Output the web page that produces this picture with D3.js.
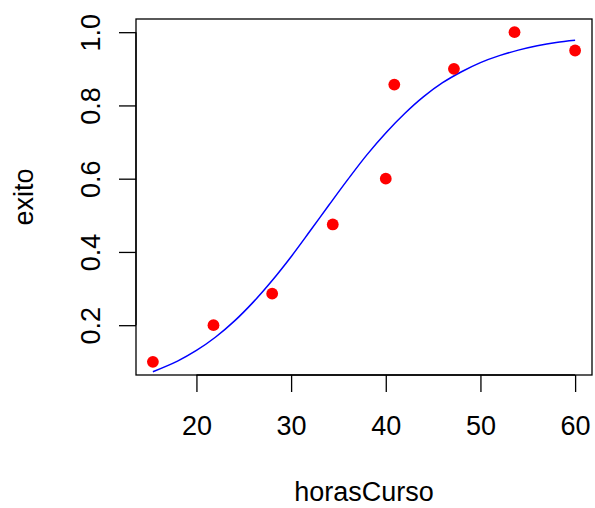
<!DOCTYPE html>
<html>
<head>
<meta charset="utf-8">
<script src="https://cdn.jsdelivr.net/npm/d3@7"></script>
<style>
  html, body { margin: 0; padding: 0; background: #ffffff; }
  svg { display: block; font-family: "Liberation Sans", Arial, Helvetica, sans-serif; }
</style>
</head>
<body>
<svg id="chart" width="595" height="508"></svg>
<script>
// Observed success proportion by course hours
const horasCurso = [15.4, 21.8, 28.0, 34.4, 40.0, 40.9, 47.2, 53.6, 60.0];
const exito = [0.100, 0.200, 0.286, 0.475, 0.600, 0.857, 0.900, 1.000, 0.950];

// Fitted logistic curve, sampled along the hours range
const curveHoras = [15.4, 18, 20, 22, 24, 26, 28, 30, 32, 34, 36, 38, 40, 42, 44, 46, 48, 50, 52, 54, 56, 58, 60];
const curveExito = [0.073, 0.102, 0.131, 0.167, 0.211, 0.263, 0.322, 0.387, 0.457, 0.528, 0.598, 0.665, 0.725,
                    0.778, 0.824, 0.862, 0.892, 0.917, 0.936, 0.951, 0.963, 0.972, 0.978];

const xTicks = [20, 30, 40, 50, 60];
const yTicks = [0.2, 0.4, 0.6, 0.8, 1.0];

const svg = d3.select("#chart");
const plot = { left: 136, right: 592, top: 19, bottom: 375 };

// R-style 4% padding around the data range
function padded(vals) {
  const [lo, hi] = d3.extent(vals);
  const p = (hi - lo) * 0.04;
  return [lo - p, hi + p];
}

const x = d3.scaleLinear().domain(padded(horasCurso)).range([plot.left, plot.right]);
const y = d3.scaleLinear().domain(padded(exito)).range([plot.bottom, plot.top]);

const fontSize = 27;
const tickLen = 17;

// x axis
const xAxis = d3.axisBottom(x).tickValues(xTicks).tickSize(tickLen).tickPadding(0).tickFormat(d3.format("d"));
const gx = svg.append("g").attr("transform", `translate(0,${plot.bottom})`).call(xAxis);
gx.select(".domain").attr("d", `M${x(xTicks[0])},0H${x(xTicks[xTicks.length - 1])}`)
  .attr("stroke", "#000").attr("stroke-width", 1.3);
gx.selectAll(".tick line").attr("stroke", "#000").attr("stroke-width", 1.3);
gx.selectAll(".tick text")
  .attr("y", 60).attr("dy", null)
  .attr("fill", "#000")
  .style("font-size", fontSize + "px")
  .style("font-family", "'Liberation Sans', Arial, sans-serif");

// y axis
const yAxis = d3.axisLeft(y).tickValues(yTicks).tickSize(tickLen).tickPadding(0).tickFormat(d3.format(".1f"));
const gy = svg.append("g").attr("transform", `translate(${plot.left},0)`).call(yAxis);
gy.select(".domain").attr("d", `M0,${y(yTicks[0])}V${y(yTicks[yTicks.length - 1])}`)
  .attr("stroke", "#000").attr("stroke-width", 1.3);
gy.selectAll(".tick line").attr("stroke", "#000").attr("stroke-width", 1.3);
gy.selectAll(".tick text")
  .attr("x", null).attr("dy", null)
  .attr("transform", "translate(-36,0) rotate(-90)")
  .attr("text-anchor", "middle")
  .attr("fill", "#000")
  .style("font-size", fontSize + "px")
  .style("font-family", "'Liberation Sans', Arial, sans-serif");

// plot box
svg.append("rect")
  .attr("x", plot.left).attr("y", plot.top)
  .attr("width", plot.right - plot.left).attr("height", plot.bottom - plot.top)
  .attr("fill", "none").attr("stroke", "#000").attr("stroke-width", 1.3);

// fitted curve
const line = d3.line()
  .x((d, i) => x(curveHoras[i]))
  .y(d => y(d))
  .curve(d3.curveCatmullRom.alpha(0.5));
svg.append("path")
  .attr("d", line(curveExito))
  .attr("fill", "none")
  .attr("stroke", "#0000ff")
  .attr("stroke-width", 1.5);

// observed points
svg.append("g").selectAll("circle")
  .data(exito)
  .join("circle")
  .attr("cx", (d, i) => x(horasCurso[i]))
  .attr("cy", d => y(d))
  .attr("r", 5.9)
  .attr("fill", "#ff0000");

// axis titles
svg.append("text")
  .attr("x", (plot.left + plot.right) / 2)
  .attr("y", 501)
  .attr("text-anchor", "middle")
  .style("font-size", fontSize + "px")
  .attr("fill", "#000")
  .text("horasCurso");

svg.append("text")
  .attr("transform", `translate(33,${(plot.top + plot.bottom) / 2}) rotate(-90)`)
  .attr("text-anchor", "middle")
  .style("font-size", fontSize + "px")
  .attr("fill", "#000")
  .text("exito");
</script>
</body>
</html>
